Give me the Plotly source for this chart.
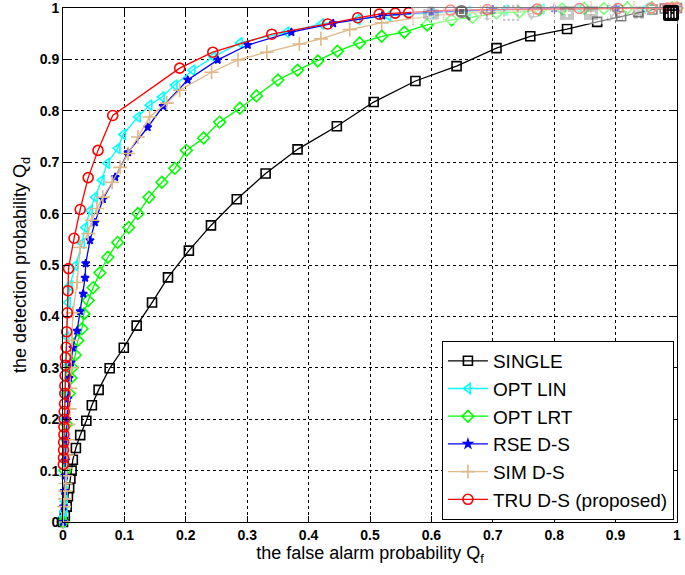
import plotly.graph_objects as go

# ---------------- data ----------------
single_x = [0, 0.003, 0.006, 0.008, 0.010, 0.012, 0.014, 0.016, 0.021, 0.028, 0.038, 0.047, 0.058, 0.076,
            0.099, 0.120, 0.145, 0.171, 0.205, 0.241, 0.283, 0.330, 0.382, 0.446, 0.506, 0.574, 0.641,
            0.706, 0.761, 0.821, 0.870, 0.909, 0.937, 0.960, 0.980, 1.0]
single_y = [0, 0.012, 0.030, 0.050, 0.066, 0.084, 0.100, 0.121, 0.144, 0.169, 0.197, 0.227, 0.257, 0.299,
            0.339, 0.382, 0.427, 0.476, 0.528, 0.577, 0.628, 0.678, 0.725, 0.770, 0.817, 0.858, 0.887,
            0.922, 0.945, 0.959, 0.973, 0.984, 0.992, 0.997, 0.999, 1.0]

optlin_x = [0, 0.001, 0.002, 0.003, 0.003, 0.003, 0.003, 0.003, 0.003, 0.003, 0.003, 0.003, 0.006, 0.008,
            0.011, 0.020, 0.031, 0.036, 0.044, 0.052, 0.063, 0.072, 0.089, 0.098, 0.122, 0.141, 0.161,
            0.182, 0.211, 0.245, 0.288, 0.364, 0.421, 0.480, 0.530, 0.600, 0.660, 0.720, 0.780, 0.840,
            0.900, 0.950, 1.0]
optlin_y = [0, 0.010, 0.020, 0.030, 0.040, 0.060, 0.090, 0.120, 0.160, 0.200, 0.250, 0.300, 0.360, 0.427,
            0.460, 0.499, 0.542, 0.573, 0.606, 0.632, 0.665, 0.698, 0.727, 0.754, 0.788, 0.811, 0.827,
            0.850, 0.879, 0.905, 0.932, 0.953, 0.969, 0.978, 0.985, 0.990, 0.994, 0.996, 0.998, 0.999,
            1.0, 1.0, 1.0]

optlrt_x = [0, 0.003, 0.006, 0.010, 0.013, 0.015, 0.020, 0.024, 0.031, 0.034, 0.041, 0.049,
            0.060, 0.073, 0.089, 0.107, 0.122, 0.140, 0.161, 0.182, 0.201, 0.229, 0.255, 0.288, 0.315,
            0.350, 0.382, 0.415, 0.447, 0.483, 0.519, 0.556, 0.593, 0.633, 0.667, 0.706, 0.743, 0.776,
            0.813, 0.849, 0.881, 0.919, 0.959, 0.992, 1.0]
optlrt_y = [0, 0.100, 0.190, 0.250, 0.280, 0.300, 0.325, 0.353, 0.376, 0.405, 0.431, 0.456,
            0.485, 0.515, 0.544, 0.573, 0.600, 0.632, 0.661, 0.688, 0.723, 0.747, 0.778, 0.805, 0.829,
            0.860, 0.879, 0.897, 0.916, 0.932, 0.945, 0.953, 0.967, 0.977, 0.982, 0.990, 0.992, 0.996,
            0.998, 0.999, 0.999, 1.0, 1.0, 1.0, 1.0]

rse_x = [0, 0.001, 0.002, 0.003, 0.004, 0.005, 0.006, 0.008, 0.010, 0.013, 0.016, 0.023, 0.028, 0.033,
         0.036, 0.037, 0.044, 0.052, 0.065, 0.085, 0.106, 0.138, 0.163, 0.203, 0.252, 0.301, 0.372,
         0.440, 0.520, 0.600, 0.700, 0.800, 0.900, 1.0]
rse_y = [0, 0.030, 0.060, 0.090, 0.120, 0.160, 0.200, 0.240, 0.280, 0.310, 0.339, 0.372, 0.410, 0.444,
         0.475, 0.503, 0.548, 0.583, 0.628, 0.671, 0.719, 0.768, 0.809, 0.860, 0.899, 0.928, 0.953,
         0.970, 0.985, 0.992, 0.997, 0.999, 1.0, 1.0]

sim_x = [0, 0.002, 0.003, 0.004, 0.004, 0.005, 0.006, 0.007, 0.008, 0.009, 0.011, 0.012, 0.013, 0.015,
         0.016, 0.023, 0.028, 0.041, 0.047, 0.055, 0.065, 0.080, 0.093, 0.106, 0.122, 0.141, 0.169,
         0.190, 0.242, 0.285, 0.332, 0.385, 0.420, 0.467, 0.519, 0.570, 0.620, 0.680, 0.740, 0.800,
         0.860, 0.930, 1.0]
sim_y = [0, 0.030, 0.045, 0.060, 0.075, 0.090, 0.105, 0.130, 0.160, 0.190, 0.220, 0.260, 0.300, 0.353,
         0.407, 0.466, 0.534, 0.561, 0.587, 0.610, 0.632, 0.661, 0.690, 0.717, 0.749, 0.788, 0.815,
         0.840, 0.875, 0.899, 0.914, 0.930, 0.940, 0.958, 0.971, 0.980, 0.987, 0.992, 0.995, 0.997,
         0.999, 1.0, 1.0]

tru_x = [0.0005, 0.0008, 0.001, 0.001, 0.0015, 0.0015, 0.002, 0.002, 0.0025, 0.003, 0.003, 0.0035, 0.004,
         0.004, 0.005, 0.006, 0.007, 0.008, 0.009, 0.018, 0.028, 0.041, 0.057, 0.081, 0.190, 0.244,
         0.340, 0.431, 0.480, 0.515, 0.541, 0.563, 0.631, 0.691, 0.772, 0.841, 0.904, 0.958, 0.984,
         0.992, 1.0]
tru_y = [0.112, 0.125, 0.140, 0.155, 0.170, 0.185, 0.200, 0.215, 0.230, 0.250, 0.265, 0.285, 0.305,
         0.320, 0.340, 0.370, 0.407, 0.450, 0.493, 0.552, 0.608, 0.670, 0.723, 0.791, 0.883, 0.914,
         0.949, 0.969, 0.981, 0.988, 0.990, 0.991, 0.996, 0.997, 0.998, 0.999, 0.999, 1.0, 1.0,
         1.0, 1.0]

series_names = ["SINGLE", "OPT LIN", "OPT LRT", "RSE D-S", "SIM D-S", "TRU D-S (proposed)"]
tick_vals = [0, 0.1, 0.2, 0.3, 0.4, 0.5, 0.6, 0.7, 0.8, 0.9, 1]
tick_text = ["0", "0.1", "0.2", "0.3", "0.4", "0.5", "0.6", "0.7", "0.8", "0.9", "1"]

# ---------------- figure ----------------
styles = [
    (single_x, single_y, "black", "square-open", 9),
    (optlin_x, optlin_y, "#00FFFF", "triangle-left-open", 9),
    (optlrt_x, optlrt_y, "#00FF00", "diamond-open", 9),
    (rse_x, rse_y, "#0000FF", "star", 6),
    (sim_x, sim_y, "#DEB887", "cross-thin-open", 10),
    (tru_x, tru_y, "#FF0000", "circle-open", 10),
]

fig = go.Figure()
for name, (xs, ys, col, sym, size) in zip(series_names, styles):
    fig.add_trace(go.Scatter(
        x=xs, y=ys, name=name, mode="lines+markers",
        line=dict(color=col, width=1.3),
        marker=dict(symbol=sym, size=size, color=col,
                    line=dict(color=col, width=1.6)),
        cliponaxis=False,
    ))

font_family = "Arial, Liberation Sans, sans-serif"
axis_common = dict(
    range=[0, 1], tickvals=tick_vals, ticktext=tick_text,
    showline=True, linecolor="black", linewidth=1, mirror="allticks",
    ticks="inside", ticklen=6, tickcolor="black",
    showgrid=True, gridcolor="black", gridwidth=1, griddash="3px,3px",
    zeroline=False, automargin=False, ticklabeloverflow="allow",
    tickfont=dict(family=font_family, size=14, color="black", weight="bold"),
)

fig.update_xaxes(**axis_common,
                 title=dict(text="the false alarm probability Q<sub>f</sub>",
                            font=dict(family=font_family, size=18, color="black"),
                            standoff=2))
fig.update_yaxes(**axis_common,
                 title=dict(text="the detection probability Q<sub>d</sub>",
                            font=dict(family=font_family, size=18, color="black"),
                            standoff=8))

fig.update_layout(
    template="none",
    width=685, height=575,
    margin=dict(l=63, r=8, t=8, b=53),
    paper_bgcolor="white", plot_bgcolor="white",
    showlegend=True,
    legend=dict(x=0.995, y=0.004, xanchor="right", yanchor="bottom",
                bgcolor="white", bordercolor="black", borderwidth=1,
                font=dict(family=font_family, size=19, color="black"),
                itemwidth=40, tracegroupgap=0),
)

fig.write_html("out.html", post_script="document.body.style.margin='0px';")
